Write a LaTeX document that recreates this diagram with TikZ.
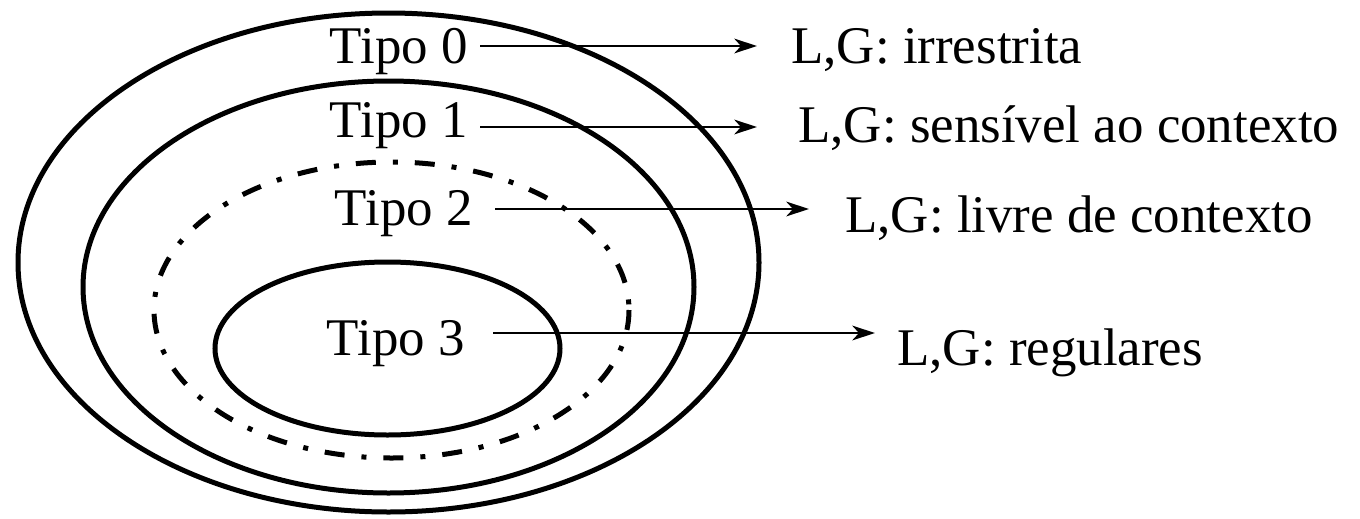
\documentclass[tikz,border=0pt]{standalone}
\usepackage{fontspec}
\setmainfont{Liberation Serif}
\usepackage{tikz}
\usetikzlibrary{arrows.meta}

\begin{document}
\begin{tikzpicture}[x=0.75pt,y=-0.75pt,
    font=\rmfamily\fontsize{39.7}{47}\selectfont,
    tipo/.style={inner sep=0pt,anchor=base east},
    lang/.style={inner sep=0pt,anchor=base west},
    ring/.style={line width=3.75pt},
    dashring/.style={line width=3.75pt,dash pattern=on 15pt off 12.75pt on 3.75pt off 12.75pt},
    arr/.style={line width=2pt,-{Stealth[length=17pt,width=11pt,inset=5pt]}}]
  \useasboundingbox (0,0) rectangle (1360,518);
  % nested classes
  \draw[ring] (388.5,262.5) ellipse [x radius=370.5,y radius=249.5];
  \draw[ring] (388.5,287) ellipse [x radius=305.5,y radius=206];
  \draw[dashring] (391.5,310) ellipse [x radius=237.5,y radius=148];
  \draw[ring] (387.5,348.5) ellipse [x radius=172.5,y radius=86.5];
  % labels
  \node[tipo] (t0) at (468,63) {Tipo 0};
  \node[tipo] (t1) at (468,137) {Tipo 1};
  \node[tipo] (t2) at (473,225) {Tipo 2};
  \node[tipo] (t3) at (465,355) {Tipo 3};
  \node[lang] (l0) at (791,63) {L,G: irrestrita};
  \node[lang] (l1) at (798,142) {L,G: sensível ao contexto};
  \node[lang] (l2) at (845,232) {L,G: livre de contexto};
  \node[lang] (l3) at (897,365) {L,G: regulares};
  % arrows
  \draw[arr] ([xshift=9pt,yshift=12.75pt]t0.base east) -- ([xshift=-25.5pt,yshift=12.75pt]l0.base west);
  \draw[arr] ([xshift=9pt,yshift=7.5pt]t1.base east) -- ([xshift=-30.75pt,yshift=11.25pt]l1.base west);
  \draw[arr] ([xshift=16.5pt,yshift=12pt]t2.base east) -- ([xshift=-27pt,yshift=17.25pt]l2.base west);
  \draw[arr] ([xshift=21pt,yshift=16.5pt]t3.base east) -- ([xshift=-16.5pt,yshift=24pt]l3.base west);
\end{tikzpicture}
\end{document}
